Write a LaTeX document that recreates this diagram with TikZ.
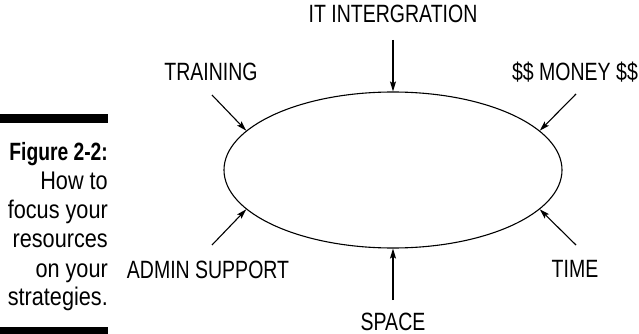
\documentclass[tikz,border=0pt]{standalone}
\usepackage{fontspec}
\setmainfont[FakeStretch=0.78]{Liberation Sans}
\newfontfamily\capfont[FakeStretch=0.85]{Liberation Sans}
\newfontfamily\capboldfont[FakeStretch=0.77]{Liberation Sans}
\usetikzlibrary{arrows.meta,shapes.geometric}
\begin{document}
\begin{tikzpicture}[x=1pt,y=-1pt,
  lbl/.style={anchor=base,inner sep=0pt,font=\fontsize{25}{29}\selectfont},
  captxt/.style={anchor=base east,inner sep=0pt,font=\capfont\fontsize{25.5}{29}\selectfont},
  arr/.style={-{Stealth[length=10pt,width=6pt,inset=2pt]},line width=1.1pt},
  bar/.style={fill=black,draw=none}]
\useasboundingbox (0,0) rectangle (639,334);
% sidebar bars
\fill[bar] (0,114) rectangle (108,123);
\fill[bar] (0,327) rectangle (108,336);
% caption
\node[captxt,font=\capboldfont\fontsize{25}{29}\selectfont\bfseries] (c1) at (108,160) {Figure 2-2:};
\node[captxt] (c2) at (108,189) {How to};
\node[captxt] (c3) at (108,218) {focus your};
\node[captxt] (c4) at (108,247) {resources};
\node[captxt] (c5) at (108,277) {on your};
\node[captxt] (c6) at (108,305) {strategies.};
% ellipse
\node[draw,ellipse,minimum width=338pt,minimum height=156pt,line width=1.1pt,inner sep=0pt] (e) at (393,170) {};
% labels
\node[lbl] (it) at (393,23) {IT INTERGRATION};
\node[lbl] (tr) at (211,81) {TRAINING};
\node[lbl] (mo) at (575,81) {\$\$ MONEY \$\$};
\node[lbl] (ad) at (208,278) {ADMIN SUPPORT};
\node[lbl] (ti) at (575,277) {TIME};
\node[lbl] (sp) at (393,330) {SPACE};
% arrow tails
\coordinate (itT) at (393,40);
\coordinate (trT) at (212,95);
\coordinate (moT) at (576,94);
\coordinate (adT) at (212,245);
\coordinate (tiT) at (576,245);
\coordinate (spT) at (393,300);
\draw[arr] (itT) -- (e.north);
\draw[arr] (spT) -- (e.south);
\draw[arr] (trT) -- (e.165);
\draw[arr] (moT) -- (e.15);
\draw[arr] (adT) -- (e.195);
\draw[arr] (tiT) -- (e.345);
\end{tikzpicture}
\end{document}
